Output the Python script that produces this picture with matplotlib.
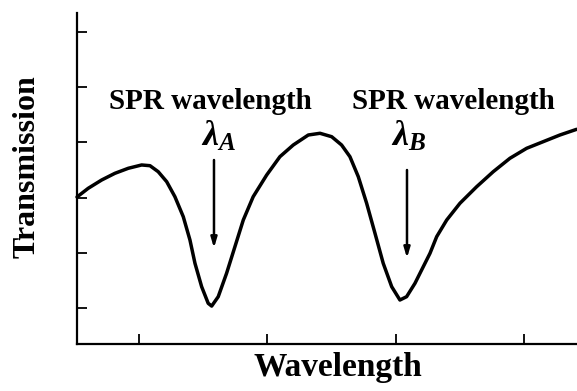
import matplotlib
matplotlib.use("Agg")
import matplotlib.pyplot as plt

plt.rcParams['font.family'] = ['Liberation Serif', 'DejaVu Serif']
plt.rcParams['mathtext.fontset'] = 'custom'
plt.rcParams['mathtext.it'] = 'Liberation Serif:italic:bold'
plt.rcParams['mathtext.rm'] = 'Liberation Serif:bold'

# transmission spectrum with two SPR dips (arbitrary units)
wavelength = [0.518, 0.605, 0.710, 0.813, 0.917, 1.021, 1.086, 1.150, 1.216, 1.280,
              1.345, 1.397, 1.436, 1.488, 1.539, 1.566, 1.617, 1.682, 1.747, 1.812,
              1.889, 1.994, 2.097, 2.201, 2.318, 2.409, 2.500, 2.577, 2.642, 2.707,
              2.772, 2.837, 2.901, 2.967, 3.031, 3.083, 3.148, 3.187, 3.265, 3.317,
              3.395, 3.498, 3.628, 3.757, 3.887, 4.017, 4.146, 4.276, 4.406]
transmission = [3.011, 3.168, 3.319, 3.440, 3.531, 3.591, 3.578, 3.469, 3.288, 3.016,
                2.654, 2.232, 1.810, 1.386, 1.085, 1.035, 1.205, 1.629, 2.111, 2.594,
                3.016, 3.409, 3.741, 3.953, 4.134, 4.165, 4.103, 3.953, 3.741, 3.379,
                2.897, 2.353, 1.810, 1.386, 1.145, 1.205, 1.447, 1.629, 1.991, 2.292,
                2.594, 2.897, 3.197, 3.469, 3.712, 3.893, 4.013, 4.134, 4.237]

x_ticks = [1, 2, 3, 4]
y_ticks = [1, 2, 3, 4, 5, 6]

# resonance markers: label, arrow x, arrow start / end, label centre
dip_labels = [r'$\lambda_A$', r'$\lambda_B$']
dip_x = [1.584, 3.086]
arrow_top = [3.681, 3.50]
arrow_tip = [2.087, 1.906]
symbol_x = [1.619, 3.101]
caption_x = [1.553, 3.447]

fig = plt.figure(figsize=(5.77, 3.91), dpi=100)
ax = fig.add_axes([77 / 577, 47 / 391, 500 / 577, 331 / 391])

ax.plot(wavelength, transmission, color='black', lw=2.5, solid_joinstyle='round',
        solid_capstyle='round', clip_on=False)

ax.set_xlim(0.518, 4.409)
ax.set_ylim(0.348, 6.344)
ax.set_xticks(x_ticks)
ax.set_yticks(y_ticks)
ax.tick_params(direction='in', length=7, width=1.3, labelbottom=False, labelleft=False)
for side in ['top', 'right']:
    ax.spines[side].set_visible(False)
for side in ['left', 'bottom']:
    ax.spines[side].set_linewidth(1.6)

for lab, x, y0, y1, sx, cx in zip(dip_labels, dip_x, arrow_top, arrow_tip,
                                  symbol_x, caption_x):
    ax.text(cx, 4.605, 'SPR wavelength', ha='center', va='baseline',
            fontsize=21, fontweight='bold')
    ax.text(sx, 3.935, lab, ha='center', va='baseline', fontsize=26)
    ax.annotate('', xy=(x, y1), xytext=(x, y0),
                arrowprops=dict(arrowstyle='-|>,head_width=0.18,head_length=0.6',
                                color='black', lw=1.8, shrinkA=0, shrinkB=0))

fig.text(338 / 577, 15 / 391, 'Wavelength', ha='center', va='baseline',
         fontsize=24, fontweight='bold')
fig.text(27 / 577, 224 / 391, 'Transmission', ha='center', va='center',
         rotation=90, fontsize=23, fontweight='bold')

fig.savefig('out.png', dpi=100)
